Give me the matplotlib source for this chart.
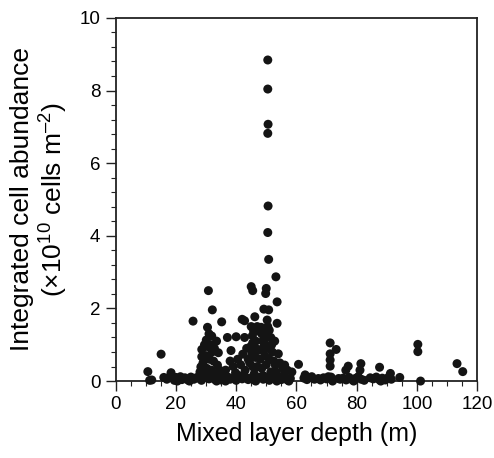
import matplotlib
matplotlib.use("Agg")
import matplotlib.pyplot as plt
from matplotlib.ticker import MultipleLocator

plt.rcParams['font.family'] = ['Liberation Sans', 'DejaVu Sans']
plt.rcParams['mathtext.fontset'] = 'custom'
plt.rcParams['mathtext.rm'] = 'Liberation Sans'
plt.rcParams['mathtext.it'] = 'Liberation Sans'

# Mixed layer depth (m)
mld = [
    # tall column
    50.5, 50.5, 50.6, 50.5, 50.6, 50.5, 50.8,
    # upper scatter
    53.2, 45.0, 45.5, 50.0, 49.8, 30.8, 53.6, 32.1, 49.2, 50.8, 25.7, 35.2,
    42.0, 42.8, 46.2, 50.3, 53.6, 30.5, 31.9, 30.1, 37.1, 40.0, 42.8, 28.6,
    28.6, 34.1, 38.3, 42.2, 28.3, 33.8, 39.8, 45.6, 53.0, 56.1, 60.7, 15.1,
    10.7, 12.0, 18.4, 62.9,
    # dense cluster around 45-53 m
    46.0, 47.0, 48.3, 49.3, 49.8, 49.6, 48.8, 47.5, 46.3, 45.5, 45.4, 45.8,
    47.2, 48.5, 46.5, 48.8, 51.0, 51.5, 51.8, 52.0, 51.0, 50.5, 49.5, 48.0,
    46.5, 45.2, 47.0, 48.5, 50.0, 52.5, 53.2, 44.5, 46.0, 49.0, 51.5, 50.5,
    52.8, 45.0, 44.8,
    # cluster around 28-44 m
    29.5, 30.5, 31.5, 32.8, 30.0, 31.2, 32.5, 29.0, 30.3, 31.8, 33.0, 29.2,
    34.5, 32.0, 31.0, 33.5, 30.8, 35.5, 28.0, 27.0, 36.5, 37.5, 39.0, 40.5,
    41.5, 43.0, 38.0, 41.0, 43.5, 44.0,
    # 54-59 m low
    54.5, 55.5, 57.0, 58.5, 56.0, 54.0,
    # 70-95 m
    71.2, 73.2, 71.2, 71.2, 71.2, 77.2, 76.4, 81.4, 81.1, 87.6, 91.2, 94.3,
    65.1, 67.3, 70.6, 74.0,
    # right side
    100.3, 100.3, 101.2, 113.3, 115.2,
    # near-zero baseline
    16.0, 17.0, 18.0, 19.0, 19.5, 20.0, 21.0, 21.5, 22.0, 23.0, 24.0, 25.0,
    26.0, 27.5, 28.5, 29.5, 31.0, 32.0, 33.0, 34.0, 35.0, 36.0, 37.0, 38.0,
    39.0, 40.0, 41.0, 42.0, 43.0, 44.0, 45.0, 46.0, 47.0, 48.0, 49.0, 50.0,
    51.0, 52.0, 53.0, 54.0, 55.0, 56.0, 57.0, 58.0, 62.5, 63.5, 64.5, 66.0,
    68.0, 69.0, 70.0, 71.5, 74.5, 75.5, 76.5, 77.5, 78.5, 79.5, 80.5, 81.5,
    82.5, 84.5, 85.5, 86.5, 87.5, 88.5, 89.5, 90.5, 91.5, 20.5, 24.5, 33.5,
    36.5, 46.5, 53.5, 57.5, 72.0, 79.0, 88.0, 11.3,
]

# Integrated cell abundance (x10^10 cells m^-2)
abundance = [
    8.84, 8.04, 7.07, 6.82, 4.82, 4.09, 3.35,
    2.87, 2.60, 2.49, 2.55, 2.41, 2.49, 2.18, 1.96, 1.98, 1.96, 1.65, 1.63,
    1.70, 1.66, 1.77, 1.68, 1.59, 1.48, 1.24, 1.13, 1.20, 1.22, 1.20, 0.87,
    0.67, 0.78, 0.84, 0.74, 0.39, 0.44, 0.23, 0.39, 0.44, 0.44, 0.46, 0.74,
    0.26, 0.03, 0.23, 0.17,
    1.45, 1.50, 1.48, 1.38, 1.20, 1.02, 0.90, 0.85, 0.92, 1.05, 1.25, 1.38,
    1.38, 1.30, 1.10, 1.10, 1.40, 1.20, 1.00, 0.80, 0.60, 0.90, 0.70, 0.60,
    0.65, 0.75, 0.40, 0.35, 0.45, 0.55, 0.25, 0.50, 0.20, 0.15, 0.25, 1.50,
    1.10, 1.50, 0.95,
    1.00, 0.95, 1.00, 0.90, 0.70, 0.60, 0.55, 0.50, 0.35, 0.30, 0.20, 0.20,
    0.30, 0.80, 1.30, 1.10, 0.15, 0.15, 0.25, 0.10, 0.30, 0.10, 0.40, 0.60,
    0.45, 0.30, 0.55, 0.15, 0.90, 0.60,
    0.50, 0.35, 0.30, 0.25, 0.20, 0.75,
    1.05, 0.87, 0.75, 0.58, 0.41, 0.41, 0.30, 0.48, 0.30, 0.38, 0.21, 0.10,
    0.12, 0.07, 0.12, 0.07,
    1.01, 0.81, 0.00, 0.48, 0.26,
    0.10, 0.05, 0.12, 0.08, 0.02, 0.10, 0.06, 0.12, 0.04, 0.09, 0.03, 0.11,
    0.05, 0.08, 0.02, 0.10, 0.06, 0.12, 0.04, 0.09, 0.03, 0.07, 0.11, 0.05,
    0.08, 0.02, 0.10, 0.06, 0.12, 0.04, 0.09, 0.03, 0.07, 0.11, 0.05, 0.08,
    0.02, 0.10, 0.06, 0.12, 0.04, 0.09, 0.03, 0.07, 0.08, 0.04, 0.10, 0.05,
    0.03, 0.09, 0.06, 0.11, 0.05, 0.08, 0.03, 0.10, 0.04, 0.07, 0.12, 0.05,
    0.02, 0.09, 0.06, 0.11, 0.04, 0.08, 0.03, 0.10, 0.05, 0.00, 0.00, 0.00,
    0.00, 0.00, 0.00, 0.00, 0.00, 0.00, 0.00, 0.02,
]

x_ticks = [0, 20, 40, 60, 80, 100, 120]
y_ticks = [0, 2, 4, 6, 8, 10]

fig = plt.figure(figsize=(4.94, 4.58), dpi=100)
ax = fig.add_axes([0.234, 0.168, 0.732, 0.793])

ax.scatter(mld, abundance, s=42, c='#141414', edgecolors='none', clip_on=False, zorder=3)

ax.set_xlim(0, 120)
ax.set_ylim(0, 10)
ax.set_xticks(x_ticks)
ax.set_yticks(y_ticks)
ax.xaxis.set_minor_locator(MultipleLocator(5))
ax.yaxis.set_minor_locator(MultipleLocator(0.4))
ax.tick_params(which='major', direction='out', length=7, width=1.0, labelsize=13.5, pad=4, color='#222222')
ax.tick_params(which='minor', direction='out', length=3.5, width=0.8, color='#222222')
ax.tick_params(top=False, right=False, which='both')
for sp in ax.spines.values():
    sp.set_linewidth(1.3)
    sp.set_color('#222222')

ax.set_xlabel('Mixed layer depth (m)', fontsize=18, labelpad=6)
ax.set_ylabel('Integrated cell abundance\n(×10$^{10}$ cells m$^{–2}$)', fontsize=19, labelpad=7, linespacing=1.15)

fig.savefig('out.png', dpi=100)
